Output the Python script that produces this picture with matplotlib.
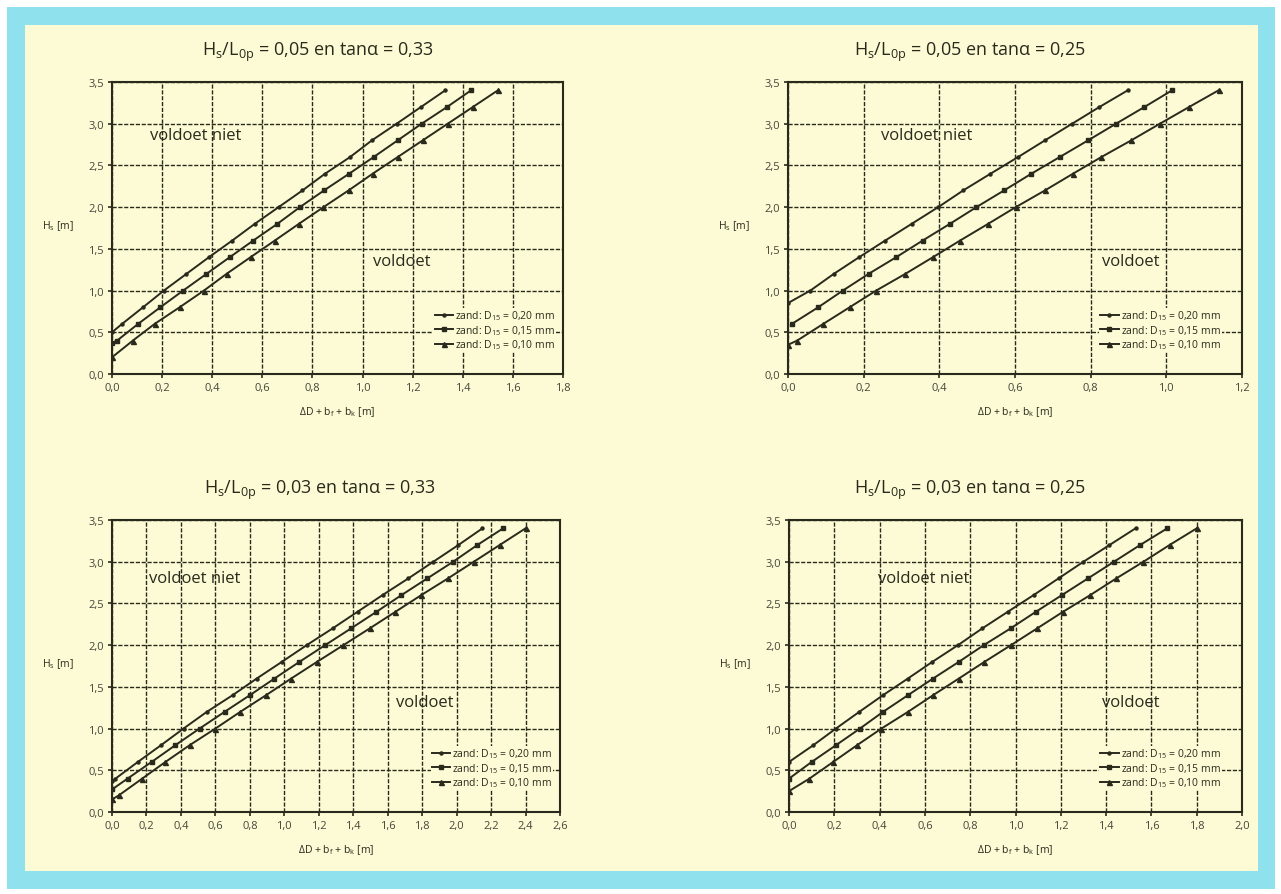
import matplotlib
matplotlib.use('Agg')
import matplotlib.pyplot as plt
from matplotlib.patches import Rectangle

plt.rcParams['font.family'] = ['Open Sans', 'DejaVu Sans']
plt.rcParams['mathtext.fontset'] = 'custom'
plt.rcParams['mathtext.rm'] = 'Open Sans'
plt.rcParams['mathtext.it'] = 'Open Sans:italic'

# Kleuren
bg_yellow = '#fcfbd5'
frame_cyan = '#8fe1ee'
ink = '#2a2a1c'

# --- Data: linksboven (Hs/L0p = 0,05, tana = 0,33) ---
tl_x_020 = [0.0, 0.04, 0.124, 0.207, 0.297, 0.387, 0.48, 0.57, 0.665, 0.76, 0.85, 0.95, 1.037, 1.136, 1.233, 1.33]
tl_y_020 = [0.5, 0.6, 0.8, 1.0, 1.2, 1.4, 1.6, 1.8, 2.0, 2.2, 2.4, 2.6, 2.8, 3.0, 3.2, 3.4]
tl_x_015 = [0.0, 0.02, 0.104, 0.193, 0.284, 0.377, 0.47, 0.564, 0.66, 0.75, 0.846, 0.946, 1.044, 1.14, 1.236, 1.337, 1.433]
tl_y_015 = [0.37, 0.4, 0.6, 0.8, 1.0, 1.2, 1.4, 1.6, 1.8, 2.0, 2.2, 2.4, 2.6, 2.8, 3.0, 3.2, 3.4]
tl_x_010 = [0.0, 0.083, 0.17, 0.27, 0.367, 0.457, 0.553, 0.65, 0.746, 0.844, 0.944, 1.04, 1.14, 1.24, 1.34, 1.44, 1.54]
tl_y_010 = [0.2, 0.4, 0.6, 0.8, 1.0, 1.2, 1.4, 1.6, 1.8, 2.0, 2.2, 2.4, 2.6, 2.8, 3.0, 3.2, 3.4]

# --- Data: rechtsboven (Hs/L0p = 0,05, tana = 0,25) ---
tr_x_020 = [0.0, 0.059, 0.121, 0.188, 0.257, 0.327, 0.397, 0.463, 0.535, 0.608, 0.679, 0.751, 0.823, 0.898]
tr_y_020 = [0.85, 1.0, 1.2, 1.4, 1.6, 1.8, 2.0, 2.2, 2.4, 2.6, 2.8, 3.0, 3.2, 3.4]
tr_x_015 = [0.01, 0.08, 0.145, 0.213, 0.286, 0.356, 0.428, 0.498, 0.571, 0.643, 0.718, 0.793, 0.867, 0.942, 1.015]
tr_y_015 = [0.6, 0.8, 1.0, 1.2, 1.4, 1.6, 1.8, 2.0, 2.2, 2.4, 2.6, 2.8, 3.0, 3.2, 3.4]
tr_x_010 = [0.0, 0.024, 0.093, 0.163, 0.233, 0.31, 0.383, 0.455, 0.529, 0.602, 0.679, 0.753, 0.828, 0.907, 0.983, 1.06, 1.138]
tr_y_010 = [0.35, 0.4, 0.6, 0.8, 1.0, 1.2, 1.4, 1.6, 1.8, 2.0, 2.2, 2.4, 2.6, 2.8, 3.0, 3.2, 3.4]

# --- Data: linksonder (Hs/L0p = 0,03, tana = 0,33) ---
bl_x_020 = [0.0, 0.02, 0.15, 0.284, 0.415, 0.55, 0.70, 0.84, 0.986, 1.13, 1.28, 1.425, 1.57, 1.72, 1.865, 2.01, 2.15]
bl_y_020 = [0.37, 0.4, 0.6, 0.8, 1.0, 1.2, 1.4, 1.6, 1.8, 2.0, 2.2, 2.4, 2.6, 2.8, 3.0, 3.2, 3.4]
bl_x_015 = [0.0, 0.09, 0.23, 0.367, 0.508, 0.653, 0.80, 0.943, 1.088, 1.237, 1.387, 1.535, 1.68, 1.83, 1.98, 2.12, 2.27]
bl_y_015 = [0.27, 0.4, 0.6, 0.8, 1.0, 1.2, 1.4, 1.6, 1.8, 2.0, 2.2, 2.4, 2.6, 2.8, 3.0, 3.2, 3.4]
bl_x_010 = [0.0, 0.04, 0.175, 0.31, 0.45, 0.6, 0.744, 0.894, 1.04, 1.19, 1.343, 1.495, 1.645, 1.795, 1.95, 2.10, 2.25, 2.40]
bl_y_010 = [0.15, 0.2, 0.4, 0.6, 0.8, 1.0, 1.2, 1.4, 1.6, 1.8, 2.0, 2.2, 2.4, 2.6, 2.8, 3.0, 3.2, 3.4]

# --- Data: rechtsonder (Hs/L0p = 0,03, tana = 0,25) ---
br_x_020 = [0.0, 0.107, 0.207, 0.31, 0.415, 0.525, 0.633, 0.746, 0.853, 0.966, 1.08, 1.19, 1.30, 1.415, 1.53]
br_y_020 = [0.6, 0.8, 1.0, 1.2, 1.4, 1.6, 1.8, 2.0, 2.2, 2.4, 2.6, 2.8, 3.0, 3.2, 3.4]
br_x_015 = [0.0, 0.1, 0.207, 0.313, 0.415, 0.525, 0.636, 0.75, 0.86, 0.978, 1.09, 1.205, 1.32, 1.435, 1.55, 1.67]
br_y_015 = [0.4, 0.6, 0.8, 1.0, 1.2, 1.4, 1.6, 1.8, 2.0, 2.2, 2.4, 2.6, 2.8, 3.0, 3.2, 3.4]
br_x_010 = [0.0, 0.09, 0.195, 0.30, 0.408, 0.525, 0.636, 0.75, 0.863, 0.98, 1.095, 1.21, 1.33, 1.445, 1.565, 1.68, 1.80]
br_y_010 = [0.25, 0.4, 0.6, 0.8, 1.0, 1.2, 1.4, 1.6, 1.8, 2.0, 2.2, 2.4, 2.6, 2.8, 3.0, 3.2, 3.4]

titles = [r'H$_\mathrm{s}$/L$_\mathrm{0p}$ = 0,05 en tanα = 0,33',
          r'H$_\mathrm{s}$/L$_\mathrm{0p}$ = 0,05 en tanα = 0,25',
          r'H$_\mathrm{s}$/L$_\mathrm{0p}$ = 0,03 en tanα = 0,33',
          r'H$_\mathrm{s}$/L$_\mathrm{0p}$ = 0,03 en tanα = 0,25']
x_max = [1.8, 1.2, 2.6, 2.0]
legend_labels = [r'zand: D$_\mathrm{15}$ = 0,20 mm',
                 r'zand: D$_\mathrm{15}$ = 0,15 mm',
                 r'zand: D$_\mathrm{15}$ = 0,10 mm']

W, H = 1281, 895
fig = plt.figure(figsize=(W / 100, H / 100), dpi=100, facecolor='white')

# rand: cyaan kader met geel vlak
fig.patches.append(Rectangle((7 / W, 5 / H), 1268 / W, 882 / H, transform=fig.transFigure,
                             facecolor=frame_cyan, edgecolor='none', zorder=-3))
fig.patches.append(Rectangle((25 / W, 23 / H), 1233 / W, 846 / H, transform=fig.transFigure,
                             facecolor=bg_yellow, edgecolor='none', zorder=-2))

# posities in pixels: (links, boven, rechts, onder)
boxes = [(112, 83, 563, 375), (788, 83, 1242, 375), (112, 521, 560, 813), (789, 521, 1242, 813)]
title_x = [318, 970, 320, 970]
niet_pos = [(0.153, 2.86), (0.247, 2.86), (0.212, 2.81), (0.393, 2.81)]
voldoet_pos = [(1.04, 1.36), (0.83, 1.35), (1.65, 1.32), (1.38, 1.32)]
legend_anchor = [(0.985, 0.075), (0.955, 0.075), (0.985, 0.075), (0.955, 0.075)]

series = [
    [(tl_x_020, tl_y_020), (tl_x_015, tl_y_015), (tl_x_010, tl_y_010)],
    [(tr_x_020, tr_y_020), (tr_x_015, tr_y_015), (tr_x_010, tr_y_010)],
    [(bl_x_020, bl_y_020), (bl_x_015, bl_y_015), (bl_x_010, bl_y_010)],
    [(br_x_020, br_y_020), (br_x_015, br_y_015), (br_x_010, br_y_010)],
]
markers = [('o', 2.2), ('s', 3.0), ('^', 3.6)]

for i in range(4):
    l, t, r, b = boxes[i]
    ax = fig.add_axes([l / W, 1 - b / H, (r - l) / W, (b - t) / H])
    ax.set_facecolor(bg_yellow)
    for (xs, ys), (m, ms), lab in zip(series[i], markers, legend_labels):
        ax.plot(xs, ys, color=ink, lw=1.4, marker=m, ms=ms, label=lab, zorder=3)
    xm = x_max[i]
    n = int(round(xm / 0.2))
    xt = [k * 0.2 for k in range(n + 1)]
    yt = [k * 0.5 for k in range(8)]
    ax.set_xlim(0, xm)
    ax.set_ylim(0, 3.5)
    ax.set_xticks(xt)
    ax.set_yticks(yt)
    ax.set_xticklabels([f'{v:.1f}'.replace('.', ',') for v in xt])
    ax.set_yticklabels([f'{v:.1f}'.replace('.', ',') for v in yt])
    ax.tick_params(direction='out', length=3, width=1.2, color=ink, labelsize=8,
                   labelcolor='#45453a', pad=3)
    ax.grid(True, color=ink, lw=1.0, ls=(0, (3, 1.2)), zorder=1)
    for s in ax.spines.values():
        s.set_color(ink)
        s.set_linewidth(1.5)
    ax.set_xlabel(r'$\Delta$D + b$_\mathrm{f}$ + b$_\mathrm{k}$ [m]', fontsize=7.5, color=ink, labelpad=8)
    ax.set_ylabel(r'H$_\mathrm{s}$ [m]', fontsize=7.5, color=ink, rotation=0, ha='right', va='center')
    ax.yaxis.set_label_coords(-0.085, 0.51)
    ax.text(*niet_pos[i], 'voldoet niet', fontsize=12, color=ink, va='center', zorder=4)
    ax.text(*voldoet_pos[i], 'voldoet', fontsize=12, color=ink, va='center', zorder=4)
    leg = ax.legend(loc='lower right', bbox_to_anchor=legend_anchor[i], fontsize=7.5,
                    frameon=True, handlelength=1.8, handletextpad=0.2, labelspacing=0.05,
                    borderpad=0.1, borderaxespad=0.0)
    leg.get_frame().set_facecolor(bg_yellow)
    leg.get_frame().set_edgecolor('none')
    leg.get_frame().set_alpha(1.0)
    leg.set_zorder(5)
    for txt in leg.get_texts():
        txt.set_color(ink)
    ty = 52 if i < 2 else 490
    fig.text(title_x[i] / W, 1 - ty / H, titles[i], fontsize=13, color=ink, ha='center', va='center')

fig.savefig('out.png', dpi=100, facecolor=fig.get_facecolor())
